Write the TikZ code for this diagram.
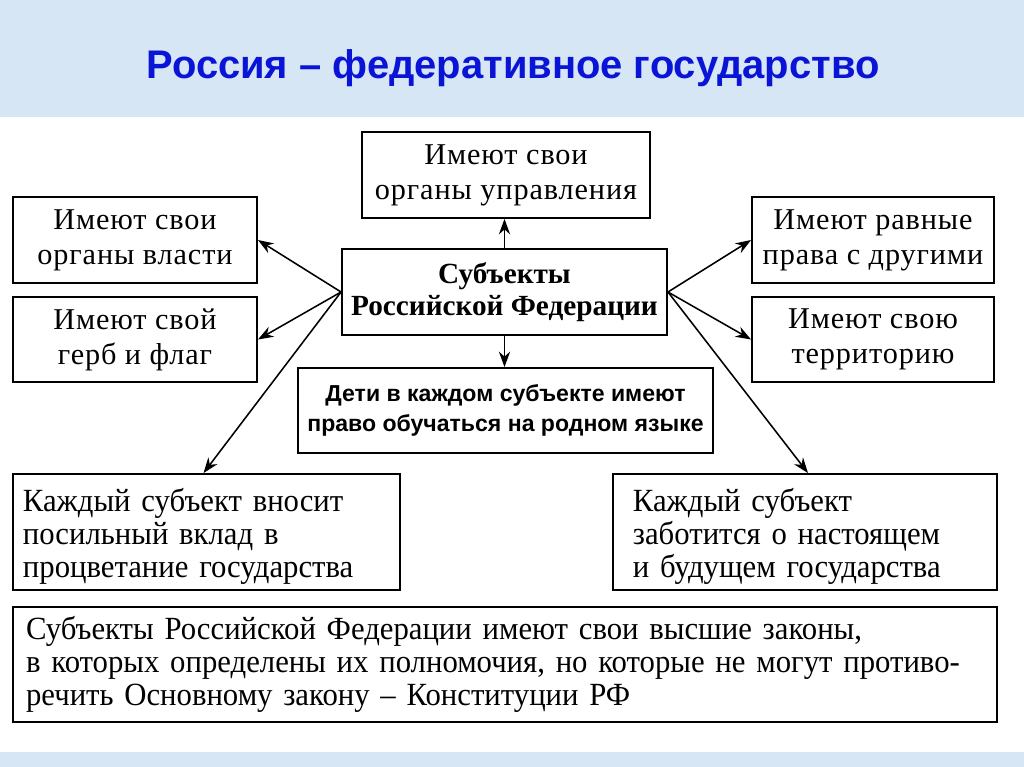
\documentclass[tikz,border=0pt]{standalone}
\usepackage{fontspec}
\setmainfont{Liberation Serif}
\newfontfamily\titlefont{Liberation Sans}
\newfontfamily\narrowfont[FakeStretch=0.95]{Liberation Serif}
\newfontfamily\kidsfont{Liberation Sans}
\newfontfamily\wideserif[LetterSpace=3]{Liberation Serif}
\usetikzlibrary{arrows.meta,calc}
\definecolor{bgblue}{RGB}{214,230,245}
\definecolor{titleblue}{RGB}{10,20,215}
\begin{document}
\begin{tikzpicture}[x=0.025cm,y=-0.025cm,
  box/.style={draw=black, line width=1.3pt, fill=white, inner sep=0pt, align=center,
    font=\wideserif\fontsize{21.5}{25}\selectfont},
  centerbox/.style={box, font=\fontsize{20.8}{23}\selectfont\bfseries},
  kidsbox/.style={box, font=\kidsfont\fontsize{16.4}{21}\selectfont\bfseries},
  lowbox/.style={box, align=left, font=\narrowfont\fontsize{23}{23.5}\selectfont},
  arr/.style={line width=1.1pt, -{Stealth[length=11pt,width=8pt]}},
]
\useasboundingbox (0,0) rectangle (1024,767);
\fill[bgblue] (0,0) rectangle (1024,767);
\fill[white] (0,117) rectangle (1024,752);
\node[text=titleblue, font=\titlefont\fontsize{28.4}{32}\selectfont\bfseries] (title) at (513,68) {Россия – федеративное государство};

\node[box, minimum width=7.2cm, minimum height=2.15cm] (top) at (506,175) {Имеют свои\\органы управления};
\node[box, minimum width=6.1cm, minimum height=2.15cm] (l1) at (135,240) {Имеют свои\\органы власти};
\node[box, minimum width=6.1cm, minimum height=2.125cm] (l2) at (135,339.5) {Имеют свой\\герб и флаг};
\node[centerbox, minimum width=8.125cm, minimum height=2.15cm] (c) at (504.5,292) {Субъекты\\Российской Федерации};
\node[kidsbox, minimum width=10.375cm, minimum height=2.125cm] (k) at (505.5,410.5) {Дети в каждом субъекте имеют\\право обучаться на родном языке};
\node[box, minimum width=6.05cm, minimum height=2.15cm] (r1) at (873,240) {Имеют равные\\права с другими};
\node[box, minimum width=6.05cm, minimum height=2.125cm] (r2) at (873,339.5) {Имеют свою\\территорию};
\node[lowbox, text width=9.175cm, minimum height=2.9cm, inner xsep=0.25cm] (bl) at (206.5,532) {\rule{0pt}{23pt}Каждый субъект вносит\\посильный вклад в\\процветание государства};
\node[lowbox, text width=8.6cm, minimum height=2.9cm, inner xsep=0.5cm] (br) at (805,532) {\rule{0pt}{23pt}Каждый субъект\\заботится о настоящем\\и будущем государства};
\node[lowbox, text width=23.94cm, minimum height=2.875cm, inner xsep=0.33cm] (b) at (505,664.5) {Субъекты Российской Федерации имеют свои высшие законы,\\в которых определены их полномочия, но которые не могут противо-\\речить Основному закону – Конституции РФ};

\draw[arr] (c.north) -- (c.north |- top.south);
\draw[arr] (c.south) -- (c.south |- k.north);
\draw[arr] (c.west) -- (l1.east);
\draw[arr] (c.west) -- (l2.east);
\draw[arr] (c.west) -- ($(bl.north)+(-3,0)$);
\draw[arr] (c.east) -- (r1.west);
\draw[arr] (c.east) -- (r2.west);
\draw[arr] (c.east) -- ($(br.north)+(3,0)$);
\end{tikzpicture}
\end{document}
